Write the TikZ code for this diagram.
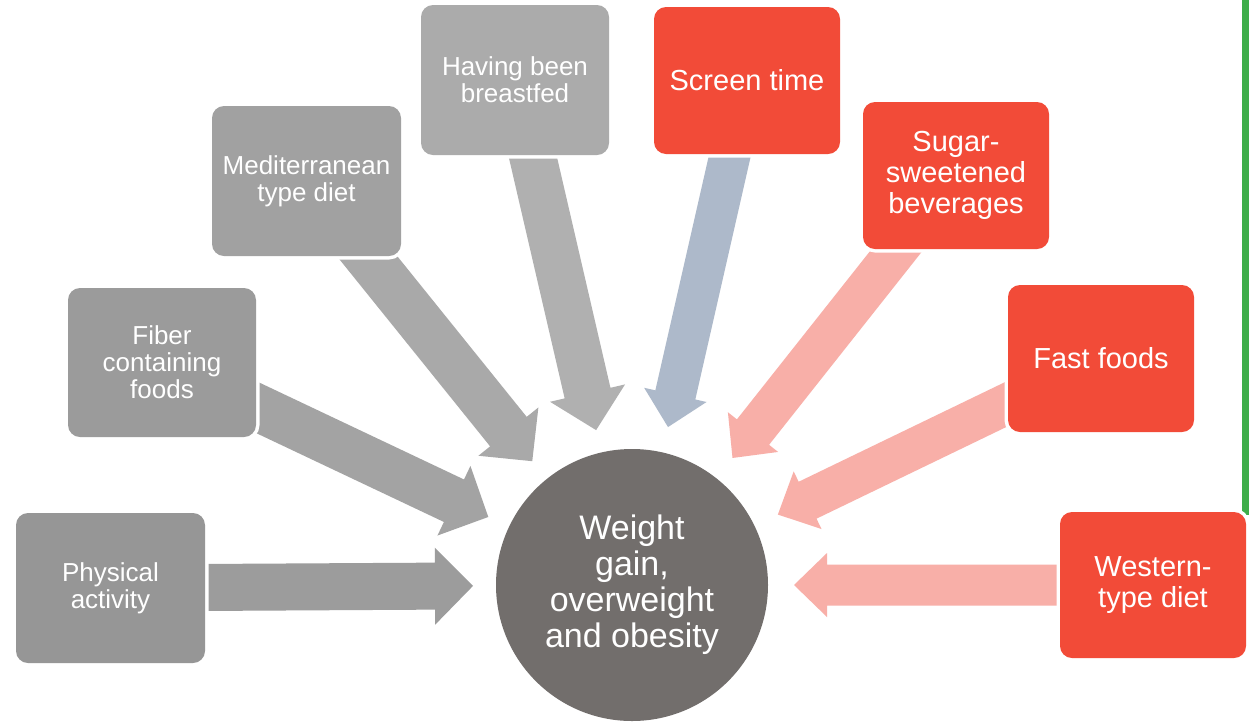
\documentclass[tikz,border=0pt]{standalone}
\usepackage{fontspec}
\setmainfont{Liberation Sans}
\usetikzlibrary{calc,backgrounds}
\definecolor{boxred}{HTML}{F24B38}
\definecolor{arrred}{HTML}{F8AFA8}
\definecolor{arrblue}{HTML}{ADB9CA}
\definecolor{circgray}{HTML}{726E6C}
\definecolor{gbar}{HTML}{3EAE4A}
\definecolor{gA}{HTML}{969696}
\definecolor{gB}{HTML}{9B9B9B}
\definecolor{gC}{HTML}{A1A1A1}
\definecolor{gD}{HTML}{ABABAB}
\definecolor{aA}{HTML}{9C9C9C}
\definecolor{aB}{HTML}{A3A3A3}
\definecolor{aC}{HTML}{A9A9A9}
\definecolor{aD}{HTML}{B0B0B0}
\tikzset{
  gbox/.style={rectangle, rounded corners=12pt, inner sep=0pt,
    minimum width=188pt, minimum height=150pt, align=center, text=white,
    font=\fontsize{26}{27}\selectfont,
    preaction={draw=white, line width=7pt}, fill=#1},
  rbox/.style={rectangle, rounded corners=12pt, inner sep=0pt,
    minimum width=186pt, minimum height=147pt, align=center, text=white,
    font=\fontsize{29}{31}\selectfont,
    preaction={draw=white, line width=7pt}, fill=boxred},
  hub/.style={circle, inner sep=0pt, minimum size=272pt, fill=circgray,
    align=center, text=white, font=\fontsize{34}{36}\selectfont}
}
% box, tip distance, shaft half width, head half width, head length, colour
\newcommand\blockarr[6]{%
  \coordinate (tipP) at ($(ctr.center)!#2!(#1.center)$);
  \coordinate (hbP) at ($(tipP)!#5!(#1.center)$);
  \fill[#6] ($(#1.center)!#3!90:(tipP)$) -- ($(hbP)!#3!90:(tipP)$)
    -- ($(hbP)!#4!90:(tipP)$) -- (tipP) -- ($(hbP)!#4!-90:(tipP)$)
    -- ($(hbP)!#3!-90:(tipP)$) -- ($(#1.center)!#3!-90:(tipP)$) -- cycle;
}
\begin{document}
\begin{tikzpicture}[x=1pt,y=-1pt]
\useasboundingbox (0,0) rectangle (1253,721);
\fill[gbar] (1242,0) rectangle (1249,515);

\node[hub] (ctr) at (632,585) {Weight\\gain,\\overweight\\and obesity};

\node[gbox=gA, minimum width=189pt] (pa) at (110.5,588) {Physical\\activity};
\node[gbox=gB, minimum height=149pt] (fi) at (162,362.5) {Fiber\\containing\\foods};
\node[gbox=gC, minimum width=189pt] (md) at (306.5,181) {Mediterranean\\type diet};
\node[gbox=gD] (bf) at (515,80) {Having been\\breastfed};

\node[rbox] (st) at (747,80.5) {Screen time};
\node[rbox] (ss) at (956,175.5) {Sugar-\\sweetened\\beverages};
\node[rbox] (ff) at (1101,358.5) {Fast foods};
\node[rbox, minimum height=146pt] (wd) at (1153,585) {Western-\\type diet};

\begin{scope}[on background layer]
\fill[white] (0,0) rectangle (1253,721);
\blockarr{pa}{159pt}{23.5pt}{38.5pt}{38pt}{aA}
\blockarr{fi}{159pt}{23.5pt}{38.5pt}{38pt}{aB}
\blockarr{md}{159pt}{23.5pt}{38.5pt}{38pt}{aC}
\blockarr{bf}{159pt}{23.5pt}{38.5pt}{38pt}{aD}
\blockarr{st}{162pt}{20.5pt}{32pt}{33pt}{arrblue}
\blockarr{ss}{162pt}{20.5pt}{32pt}{33pt}{arrred}
\blockarr{ff}{162pt}{20.5pt}{32pt}{33pt}{arrred}
\blockarr{wd}{162pt}{20.5pt}{32pt}{33pt}{arrred}
\end{scope}
\end{tikzpicture}
\end{document}
